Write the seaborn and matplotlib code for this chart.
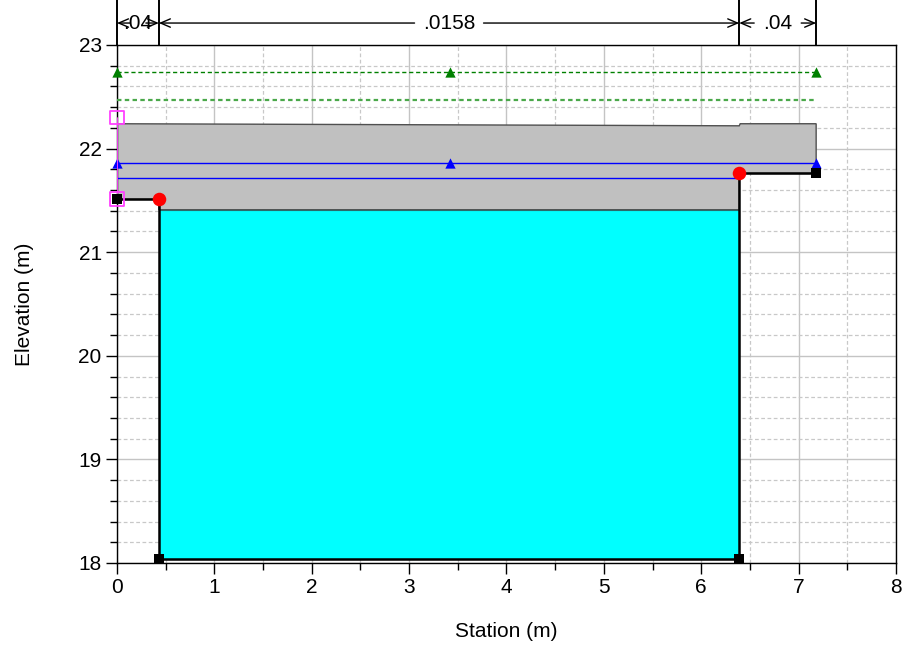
import matplotlib
matplotlib.use("Agg")
import matplotlib.pyplot as plt
from matplotlib.ticker import MultipleLocator
import seaborn as sns

# ---------------- data ----------------
ground_sta = [0.0, 0.43, 0.43, 6.39, 6.39, 7.18]
ground_elev = [21.51, 21.51, 18.04, 18.04, 21.76, 21.76]
ground_pts_sta = [0.0, 0.43, 6.39, 7.18]
ground_pts_elev = [21.51, 18.04, 18.04, 21.76]

deck_sta = [0.0, 6.39, 6.40, 7.18]
deck_top = [22.24, 22.22, 22.24, 22.24]

water_sta = [0.43, 6.39]
water_elev = 21.41

eg_sta = [0.0, 3.42, 7.18]
eg_elev = 22.74
eg2_sta = [0.0, 7.18]
eg2_elev = 22.47

ws_sta = [0.0, 3.42, 7.18]
ws_elev = 21.86
ws2_sta = [0.0, 6.39]
ws2_elev = 21.72

bank_sta = [0.43, 6.39]
bank_elev = [21.51, 21.76]

levee_sta = [0.0, 0.0]
levee_elev = [22.30, 21.51]

n_bounds = [0.0, 0.43, 6.39, 7.18]
n_labels = [".04", ".0158", ".04"]

# ---------------- style ----------------
sns.set_style("white")
plt.rcParams["font.family"] = ["Liberation Sans", "DejaVu Sans"]
plt.rcParams["text.color"] = "black"
plt.rcParams["axes.labelcolor"] = "black"
plt.rcParams["xtick.color"] = "black"
plt.rcParams["ytick.color"] = "black"

fig = plt.figure(figsize=(9.03, 6.45), dpi=100)
ax = fig.add_axes([117 / 903, 1 - 563 / 645, (896 - 117) / 903, (563 - 45) / 645])
ax.set_xlim(0, 8)
ax.set_ylim(18, 23)

# grid
ax.xaxis.set_major_locator(MultipleLocator(1))
ax.xaxis.set_minor_locator(MultipleLocator(0.5))
ax.yaxis.set_major_locator(MultipleLocator(1))
ax.yaxis.set_minor_locator(MultipleLocator(0.2))
ax.grid(which="major", color="#c4c4c4", linewidth=1.0, linestyle="-")
ax.grid(which="minor", color="#c8c8c8", linewidth=0.9, linestyle=(0, (3, 2)))
ax.set_axisbelow(True)

# gray deck region
poly_x = [0.0, 0.43, 0.43, 6.39, 6.39, 7.18, 7.18] + deck_sta[::-1]
poly_y = [21.51, 21.51, water_elev, water_elev, 21.76, 21.76, deck_top[-1]] + deck_top[::-1]
ax.fill(poly_x, poly_y, facecolor="#c0c0c0", edgecolor="#505050", linewidth=1.0, zorder=2)

# water (cyan)
ax.fill_between(water_sta, [18.04, 18.04], [water_elev, water_elev], color="#00ffff", zorder=2,
                edgecolor="#2a6a6a", linewidth=0.8)

# green EG lines
sns.lineplot(x=eg2_sta, y=[eg2_elev] * len(eg2_sta), ax=ax, color="#4aa84a", linewidth=1.6,
             linestyle=(0, (2, 1.5)), estimator=None, sort=False, zorder=3)
sns.lineplot(x=eg_sta, y=[eg_elev] * len(eg_sta), ax=ax, color="#008000", linewidth=1.0,
             linestyle=(0, (3, 2)), estimator=None, sort=False, zorder=3)
sns.scatterplot(x=eg_sta, y=[eg_elev] * len(eg_sta), ax=ax, marker="^", color="#008000",
                s=55, linewidth=0, zorder=5, clip_on=False)

# blue WS lines
sns.lineplot(x=ws_sta, y=[ws_elev] * len(ws_sta), ax=ax, color="#0000ff", linewidth=1.0,
             estimator=None, sort=False, zorder=3)
sns.lineplot(x=ws2_sta, y=[ws2_elev] * len(ws2_sta), ax=ax, color="#0000ff", linewidth=1.0,
             estimator=None, sort=False, zorder=3)
sns.scatterplot(x=ws_sta, y=[ws_elev] * len(ws_sta), ax=ax, marker="^", color="#0000ff",
                s=55, linewidth=0, zorder=5, clip_on=False)

# ground
sns.lineplot(x=ground_sta, y=ground_elev, ax=ax, color="black", linewidth=1.8,
             estimator=None, sort=False, zorder=4)
sns.scatterplot(x=ground_pts_sta, y=ground_pts_elev, ax=ax, marker="s", color="black",
                s=45, linewidth=0, zorder=6, clip_on=False)

# levee / magenta
sns.lineplot(x=levee_sta, y=levee_elev, ax=ax, color="#ff40ff", linewidth=1.3,
             estimator=None, sort=False, zorder=5)
ax.scatter(levee_sta, levee_elev, marker="s", s=100, facecolors="none", edgecolors="#ff40ff",
           linewidths=1.3, zorder=7, clip_on=False)

# bank stations
sns.scatterplot(x=bank_sta, y=bank_elev, ax=ax, marker="o", color="#ff0000", s=95,
                linewidth=0, zorder=8, clip_on=False)

# ---------------- n-value annotations ----------------
y_arrow = 23.212
y_top = 23.45
px = 8 / 779.0
for b in n_bounds:
    ax.plot([b, b], [23.0, y_top], color="black", linewidth=1.4, clip_on=False, zorder=9)
for i, lab in enumerate(n_labels):
    x0, x1 = n_bounds[i], n_bounds[i + 1]
    xc = (x0 + x1) / 2
    ax.text(xc, y_arrow, lab, ha="center", va="center", fontsize=15, clip_on=False, zorder=10)
    half = (len(lab) * 11 + 8) * px / 2 + 3 * px
    left_start = min(xc - half, x1 - 13 * px)
    left_start = max(left_start, x0 + 13 * px)
    right_start = max(xc + half, x0 + 13 * px)
    right_start = min(right_start, x1 - 13 * px)
    ax.annotate("", xy=(x0, y_arrow), xytext=(left_start, y_arrow),
                arrowprops=dict(arrowstyle="->,head_length=0.7,head_width=0.3", color="black",
                                linewidth=1.0, shrinkA=0, shrinkB=0), annotation_clip=False)
    ax.annotate("", xy=(x1, y_arrow), xytext=(right_start, y_arrow),
                arrowprops=dict(arrowstyle="->,head_length=0.7,head_width=0.3", color="black",
                                linewidth=1.0, shrinkA=0, shrinkB=0), annotation_clip=False)

# ---------------- axes ----------------
for s in ax.spines.values():
    s.set_color("black")
    s.set_linewidth(1.0)
ax.tick_params(which="major", direction="out", length=8, width=1, labelsize=15, pad=3,
               bottom=True, left=True, top=False, right=False, colors="black")
ax.tick_params(which="minor", direction="out", length=5, width=1, bottom=True, left=True,
               top=False, right=False, colors="black")
ax.set_xlabel("Station (m)", fontsize=15, labelpad=18, color="black")
ax.set_ylabel("Elevation (m)", fontsize=15, labelpad=32, color="black")

fig.savefig("out.png", dpi=100)
